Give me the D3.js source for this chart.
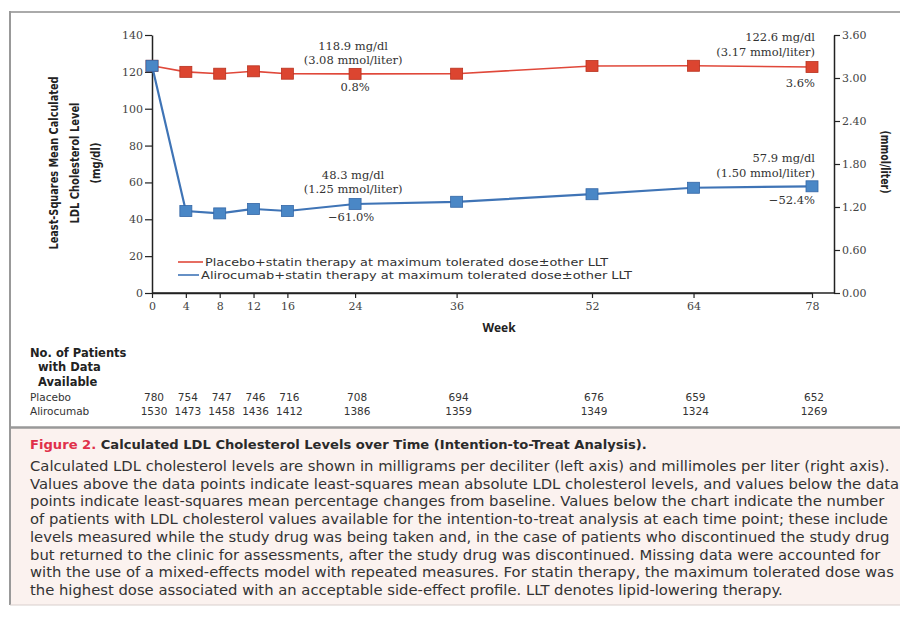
<!DOCTYPE html>
<html>
<head>
<meta charset="utf-8">
<script src="https://cdn.jsdelivr.net/npm/d3@7/dist/d3.min.js"></script>
<style>
  body { margin: 0; background: #fff; }
  svg { display: block; }
</style>
</head>
<body>
<div id="chart"></div>
<script>
// weeks of follow-up
var weeks = [0, 4, 8, 12, 16, 24, 36, 52, 64, 78];
// LS mean LDL (mg/dl)
var placeboLdl = [123.3, 120.0, 119.0, 120.3, 119.0, 118.9, 119.0, 123.2, 123.3, 122.6];
var alirocumabLdl = [123.3, 44.5, 43.2, 45.6, 44.5, 48.3, 49.5, 53.6, 57.1, 57.9];
// patients with data available
var placeboN = [780, 754, 747, 746, 716, 708, 694, 676, 659, 652];
var alirocumabN = [1530, 1473, 1458, 1436, 1412, 1386, 1359, 1349, 1324, 1269];
// axis ticks
var mgTicks = [0, 20, 40, 60, 80, 100, 120, 140];
var mmolTicks = [0, 0.6, 1.2, 1.8, 2.4, 3.0, 3.6];

var legendLabels = [
    "Placebo+statin therapy at maximum tolerated dose\u00b1other LLT",
    "Alirocumab+statin therapy at maximum tolerated dose\u00b1other LLT"
];
var captionTitle = ["Figure 2.", " Calculated LDL Cholesterol Levels over Time (Intention-to-Treat Analysis)."];
var captionLines = [
    "Calculated LDL cholesterol levels are shown in milligrams per deciliter (left axis) and millimoles per liter (right axis).",
    "Values above the data points indicate least-squares mean absolute LDL cholesterol levels, and values below the data",
    "points indicate least-squares mean percentage changes from baseline. Values below the chart indicate the number",
    "of patients with LDL cholesterol values available for the intention-to-treat analysis at each time point; these include",
    "levels measured while the study drug was being taken and, in the case of patients who discontinued the study drug",
    "but returned to the clinic for assessments, after the study drug was discontinued. Missing data were accounted for",
    "with the use of a mixed-effects model with repeated measures. For statin therapy, the maximum tolerated dose was",
    "the highest dose associated with an acceptable side-effect profile. LLT denotes lipid-lowering therapy."
];

var RED = "#dc4530", RED_LINE = "#e0483a";
var BLUE = "#4a87c6", BLUE_LINE = "#3f74b6";
var SANS = "'Open Sans', 'Noto Sans', sans-serif";
var WIDE = "'DejaVu Sans', sans-serif";
var SERIF = "'DejaVu Serif', serif";
var NARROW = "'Liberation Sans Narrow', 'DejaVu Sans Condensed', 'Liberation Sans', sans-serif";

function drawChart() {
    var width = 900, height = 617;
    var svg = d3.select("#chart").append("svg")
        .attr("width", width)
        .attr("height", height);

    // frame + caption box
    svg.append("rect").attr("x", 10).attr("y", 428).attr("width", 890).attr("height", 177)
        .attr("fill", "#fbf2ef");
    svg.append("line").attr("x1", 10).attr("x2", 900).attr("y1", 12).attr("y2", 12)
        .attr("stroke", "#aaa").attr("stroke-width", 2);
    svg.append("line").attr("x1", 10).attr("x2", 10).attr("y1", 11).attr("y2", 605)
        .attr("stroke", "#999").attr("stroke-width", 2);
    svg.append("line").attr("x1", 10).attr("x2", 900).attr("y1", 427.5).attr("y2", 427.5)
        .attr("stroke", "#999").attr("stroke-width", 2.5);
    svg.append("line").attr("x1", 10).attr("x2", 900).attr("y1", 605).attr("y2", 605)
        .attr("stroke", "#d8cfcc").attr("stroke-width", 1);

    var x = d3.scaleLinear().domain([0, 78]).range([152, 812]);
    var y = d3.scaleLinear().domain([0, 140]).range([293, 35]);
    var y2 = d3.scaleLinear().domain([0, 3.6]).range([293, 35]);
    var xRight = 834;

    // axes
    var gl = svg.append("g").attr("transform", "translate(152,0)")
        .call(d3.axisLeft(y).tickValues(mgTicks).tickSize(7).tickSizeOuter(0).tickPadding(2));
    var gr = svg.append("g").attr("transform", "translate(" + xRight + ",0)")
        .call(d3.axisRight(y2).tickValues(mmolTicks).tickFormat(d3.format(".2f"))
            .tickSize(6).tickSizeOuter(0).tickPadding(2));
    var gb = svg.append("g").attr("transform", "translate(0,293)")
        .call(d3.axisBottom(x).tickValues(weeks).tickSize(5).tickSizeOuter(0).tickPadding(4));
    svg.append("line").attr("x1", 152).attr("x2", xRight).attr("y1", 293).attr("y2", 293)
        .attr("stroke", "#222").attr("stroke-width", 1.5);

    [gl, gr, gb].forEach(function (g) {
        g.select(".domain").attr("stroke", "#222").attr("stroke-width", 1.5);
        g.selectAll(".tick line").attr("stroke", "#222").attr("stroke-width", 1.2);
        g.selectAll(".tick text").attr("fill", "#444")
            .style("font-family", SERIF).style("font-size", "11px");
    });

    // axis titles
    var leftTitle = [
        { t: "Least-Squares Mean Calculated", x: 54, len: 173 },
        { t: "LDL Cholesterol Level", x: 75, len: 121 },
        { t: "(mg/dl)", x: 96, len: 41 }
    ];
    leftTitle.forEach(function (d) {
        svg.append("text")
            .attr("transform", "translate(" + (d.x + 4) + ",163) rotate(-90)")
            .attr("text-anchor", "middle")
            .attr("textLength", d.len).attr("lengthAdjust", "spacingAndGlyphs")
            .style("font-family", NARROW).style("font-weight", "bold").style("font-size", "12px")
            .attr("fill", "#222")
            .text(d.t);
    });
    svg.append("text")
        .attr("transform", "translate(881,162) rotate(90)")
        .attr("text-anchor", "middle")
        .attr("textLength", 63).attr("lengthAdjust", "spacingAndGlyphs")
        .style("font-family", NARROW).style("font-weight", "bold").style("font-size", "12px")
        .attr("fill", "#222")
        .text("(mmol/liter)");
    svg.append("text").attr("x", 499).attr("y", 332).attr("text-anchor", "middle")
        .style("font-family", SANS).style("font-weight", "bold").style("font-size", "12px")
        .attr("fill", "#222").text("Week");

    // series
    var series = [
        { values: placeboLdl, line: RED_LINE, fill: RED, stroke: "#b8321f", w: 1.6 },
        { values: alirocumabLdl, line: BLUE_LINE, fill: BLUE, stroke: "#3467a6", w: 2.2 }
    ];
    var line = d3.line().x(function (d) { return x(d[0]); }).y(function (d) { return y(d[1]); });
    series.forEach(function (s) {
        var pts = weeks.map(function (w, i) { return [w, s.values[i]]; });
        svg.append("path").datum(pts).attr("d", line)
            .attr("fill", "none").attr("stroke", s.line).attr("stroke-width", s.w);
        svg.selectAll(null).data(pts).enter().append("rect")
            .attr("x", function (d) { return x(d[0]) - 6; })
            .attr("y", function (d) { return y(d[1]) - 5.5; })
            .attr("width", 12).attr("height", 11)
            .attr("fill", s.fill).attr("stroke", s.stroke).attr("stroke-width", 0.8);
    });

    // value annotations
    var notes = [
        { w: 24, lines: ["118.9 mg/dl", "(3.08 mmol/liter)"], ys: [50, 64], anchor: "middle", dx: -2 },
        { w: 24, lines: ["0.8%"], ys: [91], anchor: "middle", dx: 0 },
        { w: 78, lines: ["122.6 mg/dl", "(3.17 mmol/liter)"], ys: [41, 56], anchor: "end", dx: 3 },
        { w: 78, lines: ["3.6%"], ys: [87], anchor: "end", dx: 3 },
        { w: 24, lines: ["48.3 mg/dl", "(1.25 mmol/liter)"], ys: [179, 193], anchor: "middle", dx: -2 },
        { w: 24, lines: ["\u221261.0%"], ys: [221], anchor: "middle", dx: -4 },
        { w: 78, lines: ["57.9 mg/dl", "(1.50 mmol/liter)"], ys: [162, 177], anchor: "end", dx: 3 },
        { w: 78, lines: ["\u221252.4%"], ys: [204], anchor: "end", dx: 3 }
    ];
    notes.forEach(function (n) {
        n.lines.forEach(function (t, i) {
            svg.append("text").attr("x", x(n.w) + n.dx).attr("y", n.ys[i])
                .attr("text-anchor", n.anchor)
                .style("font-family", SERIF).style("font-size", "11.5px")
                .attr("fill", "#333").text(t);
        });
    });

    // legend
    var legendRows = [
        { y: 262, color: RED_LINE, tx: 205, len: 403 },
        { y: 275, color: BLUE_LINE, tx: 201, len: 431 }
    ];
    legendRows.forEach(function (r, i) {
        svg.append("line").attr("x1", 178).attr("x2", r.tx - 2).attr("y1", r.y).attr("y2", r.y)
            .attr("stroke", r.color).attr("stroke-width", 1.6);
        svg.append("text").attr("x", r.tx).attr("y", r.y + 4)
            .attr("textLength", r.len).attr("lengthAdjust", "spacingAndGlyphs")
            .style("font-family", WIDE).style("font-size", "10px")
            .attr("fill", "#333").text(legendLabels[i]);
    });

    // patients table
    var head = [
        { t: "No. of Patients", x: 30, y: 357 },
        { t: "with Data", x: 38, y: 371 },
        { t: "Available", x: 38, y: 386 }
    ];
    head.forEach(function (h) {
        svg.append("text").attr("x", h.x).attr("y", h.y)
            .style("font-family", WIDE).style("font-weight", "bold").style("font-size", "11.5px")
            .attr("fill", "#222").text(h.t);
    });
    var rows = [
        { name: "Placebo", n: placeboN, y: 401 },
        { name: "Alirocumab", n: alirocumabN, y: 415 }
    ];
    rows.forEach(function (r) {
        svg.append("text").attr("x", 30).attr("y", r.y)
            .style("font-family", WIDE).style("font-size", "10.5px")
            .attr("fill", "#333").text(r.name);
        svg.selectAll(null).data(r.n).enter().append("text")
            .attr("x", function (d, i) { return x(weeks[i]) + 2; })
            .attr("y", r.y)
            .attr("text-anchor", "middle")
            .style("font-family", WIDE).style("font-size", "10.5px")
            .attr("fill", "#333")
            .text(function (d) { return d; });
    });

    // caption
    var title = svg.append("text").attr("x", 30).attr("y", 449)
        .style("font-family", WIDE).style("font-weight", "bold").style("font-size", "12px");
    title.append("tspan").attr("fill", "#e0304a").text(captionTitle[0]);
    title.append("tspan").attr("fill", "#2a2a2a").text(captionTitle[1]);
    var tw = title.node().getComputedTextLength();
    title.style("font-size", (12 * 617 / tw) + "px");

    var cap = svg.selectAll(null).data(captionLines).enter().append("text")
        .attr("x", 30)
        .attr("y", function (d, i) { return 471 + i * 17.7; })
        .style("font-family", WIDE).style("font-size", "12px")
        .attr("fill", "#333")
        .text(function (d) { return d; });
    var w0 = cap.nodes()[0].getComputedTextLength();
    cap.style("font-size", Math.min(15, 12 * 860 / w0) + "px");
}

window.addEventListener('load', function () {
    drawChart();
});
</script>
</body>
</html>
